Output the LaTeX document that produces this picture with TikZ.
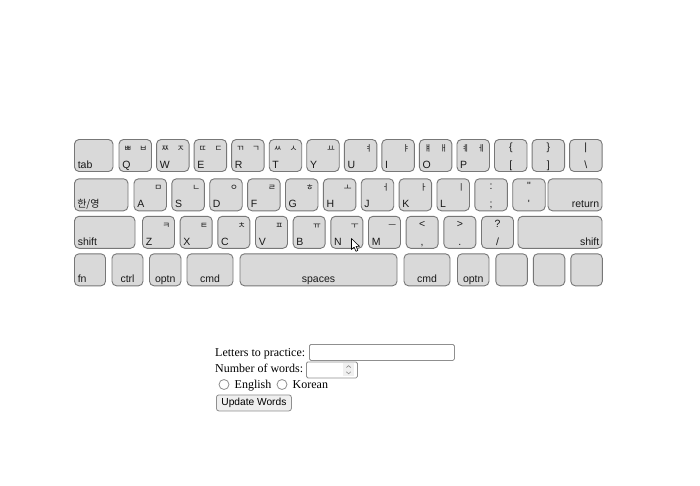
\documentclass[tikz,border=0pt]{standalone}
\usepackage{fontspec}
\setmainfont{Liberation Serif}
\newfontfamily\keyfont{Liberation Sans}
\newfontfamily\korfont{Noto Sans CJK KR}
\definecolor{keyfill}{HTML}{D9D9D9}
\definecolor{keyedge}{HTML}{777777}
\definecolor{ctrledge}{HTML}{8F8F8F}
\definecolor{btnfill}{HTML}{EFEFEF}
\tikzset{
  keybox/.style={draw=keyedge, fill=keyfill, rounded corners=4.5pt, line width=0.9pt, minimum height=32pt, inner sep=0pt},
  lbl/.style={font=\keyfont\fontsize{10.5}{12}\selectfont, inner sep=0pt, text=black!90},
  jamo/.style={font=\korfont\fontsize{8.5}{10}\selectfont, inner sep=0pt, text=black!90},
  kor/.style={font=\korfont\fontsize{10}{12}\selectfont, inner sep=0pt, text=black!90},
  form/.style={font=\fontsize{12}{14}\selectfont, inner sep=0pt},
  inputbox/.style={draw=ctrledge, fill=white, rounded corners=1.5pt, line width=0.8pt, inner sep=0pt},
  radio/.style={circle, draw=ctrledge, fill=white, line width=0.8pt, minimum size=10pt, inner sep=0pt},
  btn/.style={draw=ctrledge, fill=btnfill, rounded corners=2.5pt, line width=0.8pt, inner sep=0pt,
    font=\keyfont\fontsize{10.2}{12}\selectfont},
}
\newcommand\K[4]{\node[keybox, minimum width=#4pt] (#1) at ({#2+#4/2},{-#3}) {};}
\newcommand\LBL[2]{\node[lbl,anchor=base west] (#1-bl) at ([xshift=3.5pt,yshift=3.5pt]#1.south west) {#2};}
\newcommand\LBR[2]{\node[lbl,anchor=base east] (#1-br) at ([xshift=-3pt,yshift=3.5pt]#1.south east) {#2};}
\newcommand\LBC[2]{\node[lbl,anchor=base] (#1-bc) at ([yshift=3.5pt]#1.south) {#2};}
\newcommand\LTC[2]{\node[lbl,anchor=base] (#1-tc) at ([yshift=-11.5pt]#1.north) {#2};}
\newcommand\JR[2]{\node[jamo,anchor=base east] (#1-tr) at ([xshift=-4.5pt,yshift=-12.5pt]#1.north east) {#2};}
\newcommand\JL[2]{\node[jamo,anchor=base west] (#1-tl) at ([xshift=5pt,yshift=-12.5pt]#1.north west) {#2};}
\begin{document}
\begin{tikzpicture}[x=1pt,y=1pt]
\useasboundingbox[fill=white] (0,0) rectangle (700,-485);
% ---------- row 1 ----------
\def\ra{155.5}
\K{tab}{74.5}{\ra}{38.5}\LBL{tab}{tab}
\K{q}{119}{\ra}{32.5}\LBL{q}{Q}\JL{q}{ㅃ}\JR{q}{ㅂ}
\K{w}{156.55}{\ra}{32.5}\LBL{w}{W}\JL{w}{ㅉ}\JR{w}{ㅈ}
\K{e}{194.1}{\ra}{32.5}\LBL{e}{E}\JL{e}{ㄸ}\JR{e}{ㄷ}
\K{r}{231.65}{\ra}{32.5}\LBL{r}{R}\JL{r}{ㄲ}\JR{r}{ㄱ}
\K{t}{269.2}{\ra}{32.5}\LBL{t}{T}\JL{t}{ㅆ}\JR{t}{ㅅ}
\K{y}{306.75}{\ra}{32.5}\LBL{y}{Y}\JR{y}{ㅛ}
\K{u}{344.3}{\ra}{32.5}\LBL{u}{U}\JR{u}{ㅕ}
\K{i}{381.85}{\ra}{32.5}\LBL{i}{I}\JR{i}{ㅑ}
\K{o}{419.4}{\ra}{32.5}\LBL{o}{O}\JL{o}{ㅒ}\JR{o}{ㅐ}
\K{p}{456.95}{\ra}{32.5}\LBL{p}{P}\JL{p}{ㅖ}\JR{p}{ㅔ}
\K{lbrk}{494.5}{\ra}{32.5}\LTC{lbrk}{\{}\LBC{lbrk}{[}
\K{rbrk}{532.05}{\ra}{32.5}\LTC{rbrk}{\}}\LBC{rbrk}{]}
\K{bslash}{569.6}{\ra}{32.5}\LTC{bslash}{|}\LBC{bslash}{\textbackslash}
% ---------- row 2 ----------
\def\rb{194.8}
\K{hanyeong}{74.5}{\rb}{53.5}\node[kor,anchor=base west] (hanyeong-bl) at ([xshift=3pt,yshift=3.5pt]hanyeong.south west) {한/영};
\K{a}{134}{\rb}{32.5}\LBL{a}{A}\JR{a}{ㅁ}
\K{s}{171.87}{\rb}{32.5}\LBL{s}{S}\JR{s}{ㄴ}
\K{d}{209.74}{\rb}{32.5}\LBL{d}{D}\JR{d}{ㅇ}
\K{f}{247.61}{\rb}{32.5}\LBL{f}{F}\JR{f}{ㄹ}
\K{g}{285.48}{\rb}{32.5}\LBL{g}{G}\JR{g}{ㅎ}
\K{h}{323.35}{\rb}{32.5}\LBL{h}{H}\JR{h}{ㅗ}
\K{j}{361.22}{\rb}{32.5}\LBL{j}{J}\JR{j}{ㅓ}
\K{k}{399.09}{\rb}{32.5}\LBL{k}{K}\JR{k}{ㅏ}
\K{l}{436.96}{\rb}{32.5}\LBL{l}{L}\JR{l}{ㅣ}
\K{semi}{474.83}{\rb}{32.5}\LTC{semi}{:}\LBC{semi}{;}
\K{quote}{512.7}{\rb}{32.5}\LTC{quote}{\char"0022}\LBC{quote}{\char"0027}
\K{return}{548}{\rb}{54}\LBR{return}{return}
% ---------- row 3 ----------
\def\rc{232.3}
\K{lshift}{74.5}{\rc}{60.5}\LBL{lshift}{shift}
\K{z}{142.5}{\rc}{32}\LBL{z}{Z}\JR{z}{ㅋ}
\K{x}{180.17}{\rc}{32}\LBL{x}{X}\JR{x}{ㅌ}
\K{c}{217.84}{\rc}{32}\LBL{c}{C}\JR{c}{ㅊ}
\K{v}{255.51}{\rc}{32}\LBL{v}{V}\JR{v}{ㅍ}
\K{b}{293.18}{\rc}{32}\LBL{b}{B}\JR{b}{ㅠ}
\K{n}{330.85}{\rc}{32}\LBL{n}{N}\JR{n}{ㅜ}
\K{m}{368.52}{\rc}{32}\LBL{m}{M}\JR{m}{ㅡ}
\K{comma}{406.19}{\rc}{32}\LTC{comma}{<}\LBC{comma}{,}
\K{period}{443.86}{\rc}{32}\LTC{period}{>}\LBC{period}{.}
\K{slash}{481.53}{\rc}{32}\LTC{slash}{?}\LBC{slash}{/}
\K{rshift}{518}{\rc}{84}\LBR{rshift}{shift}
% ---------- row 4 ----------
\def\rd{269.8}
\K{fn}{74.5}{\rd}{31}\LBL{fn}{fn}
\K{ctrl}{112}{\rd}{31}\LBC{ctrl}{ctrl}
\K{loptn}{149.5}{\rd}{31.5}\LBC{loptn}{optn}
\K{lcmd}{187}{\rd}{46}\LBC{lcmd}{cmd}
\K{space}{240}{\rd}{157}\LBC{space}{spaces}
\K{rcmd}{404}{\rd}{46}\LBC{rcmd}{cmd}
\K{roptn}{457.5}{\rd}{31.5}\LBC{roptn}{optn}
\K{blanka}{495.8}{\rd}{31.5}
\K{blankb}{533.3}{\rd}{31.5}
\K{blankc}{570.8}{\rd}{31.5}
% ---------- mouse cursor ----------
\draw[fill=white, line width=0.6pt, line join=round]
  (351.5,-238.5) -- ++(0,-11) -- ++(2.6,2.4) -- ++(1.9,-4.2) -- ++(1.9,0.9) -- ++(-1.9,4) -- ++(3.5,0) -- cycle;
% ---------- form ----------
\node[form, anchor=base west] (lettersLbl) at (215,-356) {Letters to practice:};
\node[inputbox, minimum width=145pt, minimum height=16pt, anchor=north west] (lettersIn) at (309,-344) {};
\node[form, anchor=base west] (numLbl) at (215,-372.5) {Number of words:};
\node[inputbox, minimum width=51pt, minimum height=16pt, anchor=north west] (numIn) at (306,-361.5) {};
\node[draw=none, fill=black!6, minimum width=11pt, minimum height=13pt, inner sep=0pt, anchor=north east] (spin) at ([xshift=-3.5pt,yshift=-1.5pt]numIn.north east) {};
\draw[black!45, line width=0.6pt] ([xshift=-2.2pt,yshift=-4.6pt]spin.north) -- ([yshift=-2.6pt]spin.north) -- ([xshift=2.2pt,yshift=-4.6pt]spin.north);
\draw[black!45, line width=0.6pt] ([xshift=-2.2pt,yshift=4.6pt]spin.south) -- ([yshift=2.6pt]spin.south) -- ([xshift=2.2pt,yshift=4.6pt]spin.south);
\node[radio] (rEn) at (224,-384.5) {};
\node[form, anchor=base west] (enLbl) at (234.5,-388.5) {English};
\node[radio] (rKo) at (282,-384.5) {};
\node[form, anchor=base west] (koLbl) at (292.5,-388.5) {Korean};
\node[btn, minimum width=75pt, minimum height=16pt, anchor=north west] (upd) at (216,-394.5) {Update Words};
\end{tikzpicture}
\end{document}
